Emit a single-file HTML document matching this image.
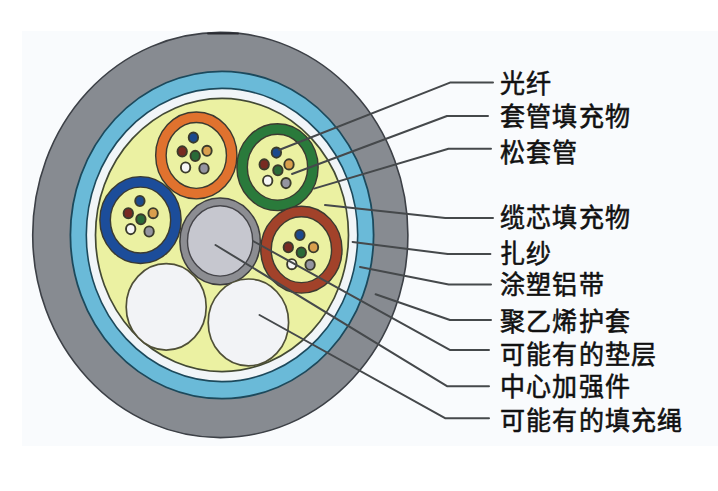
<!DOCTYPE html>
<html lang="zh-CN"><head><meta charset="utf-8">
<style>
html,body{margin:0;padding:0;background:#fff;}
body{width:718px;height:491px;overflow:hidden;}
svg{display:block;}
.lb{font-family:"Liberation Serif",serif;font-size:25px;font-weight:400;fill:#111;stroke:#111;stroke-width:0.55px;letter-spacing:1px;}
</style></head><body>
<svg width="718" height="491" viewBox="0 0 718 491">
<defs><filter id="bl" x="-5%" y="-5%" width="110%" height="110%"><feGaussianBlur stdDeviation="0.45"/></filter></defs>
<g filter="url(#bl)"><rect x="0" y="0" width="718" height="491" fill="#ffffff"/>
<rect x="22" y="31" width="696" height="415" fill="#f9fbfd"/>
<ellipse cx="220.3" cy="235.0" rx="187.6" ry="202.6" fill="#878b91" stroke="#3c4046" stroke-width="1.6" />
<path d="M208 33.4 L238 33.4" stroke="#2a2c30" stroke-width="2" stroke-linecap="round"/>
<ellipse cx="222.0" cy="235.0" rx="151.6" ry="163.7" fill="#6bbad8" stroke="#1d4a5c" stroke-width="1.8" />
<ellipse cx="222.0" cy="235.0" rx="135.7" ry="146.6" fill="#f1f5f8" stroke="#1d4a5c" stroke-width="1.6" />
<ellipse cx="222.0" cy="235.0" rx="126.5" ry="136.6" fill="#ebf1a2" stroke="#434a34" stroke-width="1.7" />
<ellipse cx="196.3" cy="155.4" rx="35.4" ry="38.2" fill="none" stroke="#3a3a30" stroke-width="11.9" />
<ellipse cx="196.3" cy="155.4" rx="35.4" ry="38.2" fill="none" stroke="#e0722f" stroke-width="9.100000000000001" />
<ellipse cx="277.5" cy="167.2" rx="35.4" ry="38.2" fill="none" stroke="#3a3a30" stroke-width="11.9" />
<ellipse cx="277.5" cy="167.2" rx="35.4" ry="38.2" fill="none" stroke="#2c7a3a" stroke-width="9.100000000000001" />
<ellipse cx="140.5" cy="220.1" rx="35.4" ry="38.2" fill="none" stroke="#3a3a30" stroke-width="11.9" />
<ellipse cx="140.5" cy="220.1" rx="35.4" ry="38.2" fill="none" stroke="#1e4d9a" stroke-width="9.100000000000001" />
<ellipse cx="301.4" cy="249.7" rx="35.4" ry="38.2" fill="none" stroke="#3a3a30" stroke-width="11.9" />
<ellipse cx="301.4" cy="249.7" rx="35.4" ry="38.2" fill="none" stroke="#a2432b" stroke-width="9.100000000000001" />
<ellipse cx="220.1" cy="241.4" rx="40.2" ry="43.4" fill="#8c8d92" stroke="#3c3c3c" stroke-width="1.5" />
<ellipse cx="220.1" cy="240.9" rx="32.6" ry="35.2" fill="#c6c7cf" stroke="#45454a" stroke-width="1.4" />
<ellipse cx="166.2" cy="306.9" rx="40.0" ry="43.2" fill="#f2f3f6" stroke="#505038" stroke-width="1.7" />
<ellipse cx="248.4" cy="322.4" rx="40.2" ry="43.4" fill="#f2f3f6" stroke="#505038" stroke-width="1.7" />
<ellipse cx="193.4" cy="137.6" rx="4.7" ry="5.1" fill="#1d4a8c" stroke="#3a3a2c" stroke-width="1.9" />
<ellipse cx="182.2" cy="151.4" rx="4.7" ry="5.1" fill="#782a22" stroke="#3a3a2c" stroke-width="1.9" />
<ellipse cx="207.0" cy="150.8" rx="4.7" ry="5.1" fill="#d99f4e" stroke="#3a3a2c" stroke-width="1.9" />
<ellipse cx="195.2" cy="155.9" rx="4.7" ry="5.1" fill="#2b6a38" stroke="#3a3a2c" stroke-width="1.9" />
<ellipse cx="185.6" cy="167.5" rx="4.7" ry="5.1" fill="#f6f6f6" stroke="#3a3a2c" stroke-width="1.9" />
<ellipse cx="204.0" cy="168.5" rx="4.7" ry="5.1" fill="#9494a0" stroke="#3a3a2c" stroke-width="1.9" />
<ellipse cx="276.4" cy="152.6" rx="4.7" ry="5.1" fill="#1d4a8c" stroke="#3a3a2c" stroke-width="1.9" />
<ellipse cx="264.2" cy="164.4" rx="4.7" ry="5.1" fill="#782a22" stroke="#3a3a2c" stroke-width="1.9" />
<ellipse cx="289.0" cy="164.4" rx="4.7" ry="5.1" fill="#d99f4e" stroke="#3a3a2c" stroke-width="1.9" />
<ellipse cx="277.9" cy="170.3" rx="4.7" ry="5.1" fill="#2b6a38" stroke="#3a3a2c" stroke-width="1.9" />
<ellipse cx="267.7" cy="180.7" rx="4.7" ry="5.1" fill="#f6f6f6" stroke="#3a3a2c" stroke-width="1.9" />
<ellipse cx="286.0" cy="183.1" rx="4.7" ry="5.1" fill="#9494a0" stroke="#3a3a2c" stroke-width="1.9" />
<ellipse cx="139.9" cy="201.0" rx="4.7" ry="5.1" fill="#1d4a8c" stroke="#3a3a2c" stroke-width="1.9" />
<ellipse cx="128.3" cy="213.2" rx="4.7" ry="5.1" fill="#782a22" stroke="#3a3a2c" stroke-width="1.9" />
<ellipse cx="153.1" cy="213.2" rx="4.7" ry="5.1" fill="#d99f4e" stroke="#3a3a2c" stroke-width="1.9" />
<ellipse cx="140.9" cy="219.3" rx="4.7" ry="5.1" fill="#2b6a38" stroke="#3a3a2c" stroke-width="1.9" />
<ellipse cx="130.7" cy="229.1" rx="4.7" ry="5.1" fill="#f6f6f6" stroke="#3a3a2c" stroke-width="1.9" />
<ellipse cx="149.1" cy="231.5" rx="4.7" ry="5.1" fill="#9494a0" stroke="#3a3a2c" stroke-width="1.9" />
<ellipse cx="299.9" cy="235.0" rx="4.7" ry="5.1" fill="#1d4a8c" stroke="#3a3a2c" stroke-width="1.9" />
<ellipse cx="288.3" cy="247.3" rx="4.7" ry="5.1" fill="#782a22" stroke="#3a3a2c" stroke-width="1.9" />
<ellipse cx="313.5" cy="247.3" rx="4.7" ry="5.1" fill="#d99f4e" stroke="#3a3a2c" stroke-width="1.9" />
<ellipse cx="301.3" cy="252.5" rx="4.7" ry="5.1" fill="#2b6a38" stroke="#3a3a2c" stroke-width="1.9" />
<ellipse cx="291.8" cy="264.2" rx="4.7" ry="5.1" fill="#f6f6f6" stroke="#3a3a2c" stroke-width="1.9" />
<ellipse cx="310.1" cy="264.8" rx="4.7" ry="5.1" fill="#9494a0" stroke="#3a3a2c" stroke-width="1.9" />
<polyline points="279,150 450,82.6 493,82.6" fill="none" stroke="#45484b" stroke-width="2" stroke-linecap="round" stroke-linejoin="round"/>
<polyline points="292,174 447,116 488,116" fill="none" stroke="#45484b" stroke-width="2" stroke-linecap="round" stroke-linejoin="round"/>
<polyline points="314,188.6 448.5,148.7 491,148.7" fill="none" stroke="#45484b" stroke-width="2" stroke-linecap="round" stroke-linejoin="round"/>
<polyline points="325,205 445.3,218 493,218" fill="none" stroke="#45484b" stroke-width="2" stroke-linecap="round" stroke-linejoin="round"/>
<polyline points="352.6,242 447.8,254 490.4,254" fill="none" stroke="#45484b" stroke-width="2" stroke-linecap="round" stroke-linejoin="round"/>
<polyline points="360,267 448.7,284.5 491,284.5" fill="none" stroke="#45484b" stroke-width="2" stroke-linecap="round" stroke-linejoin="round"/>
<polyline points="375.6,294.3 450,320 491,320" fill="none" stroke="#45484b" stroke-width="2" stroke-linecap="round" stroke-linejoin="round"/>
<polyline points="253,241 449.8,349.9 489,349.9" fill="none" stroke="#45484b" stroke-width="2" stroke-linecap="round" stroke-linejoin="round"/>
<polyline points="215.5,245 447,386.2 489,386.2" fill="none" stroke="#45484b" stroke-width="2" stroke-linecap="round" stroke-linejoin="round"/>
<polyline points="259.5,315 445.5,418.3 489,418.3" fill="none" stroke="#45484b" stroke-width="2" stroke-linecap="round" stroke-linejoin="round"/></g>
<text x="0" y="0" transform="translate(500,81.1) scale(1,1.06)" dy="11.0" class="lb">光纤</text>
<text x="0" y="0" transform="translate(500,114.3) scale(1,1.06)" dy="11.0" class="lb">套管填充物</text>
<text x="0" y="0" transform="translate(500,150.5) scale(1,1.06)" dy="11.0" class="lb">松套管</text>
<text x="0" y="0" transform="translate(500,215.7) scale(1,1.06)" dy="11.0" class="lb">缆芯填充物</text>
<text x="0" y="0" transform="translate(500,251.7) scale(1,1.06)" dy="11.0" class="lb">扎纱</text>
<text x="0" y="0" transform="translate(500,282.6) scale(1,1.06)" dy="11.0" class="lb">涂塑铝带</text>
<text x="0" y="0" transform="translate(500,319.2) scale(1,1.06)" dy="11.0" class="lb">聚乙烯护套</text>
<text x="0" y="0" transform="translate(500,352.1) scale(1,1.06)" dy="11.0" class="lb">可能有的垫层</text>
<text x="0" y="0" transform="translate(500,384.5) scale(1,1.06)" dy="11.0" class="lb">中心加强件</text>
<text x="0" y="0" transform="translate(500,418.8) scale(1,1.06)" dy="11.0" class="lb">可能有的填充绳</text>
</svg>
</body></html>
